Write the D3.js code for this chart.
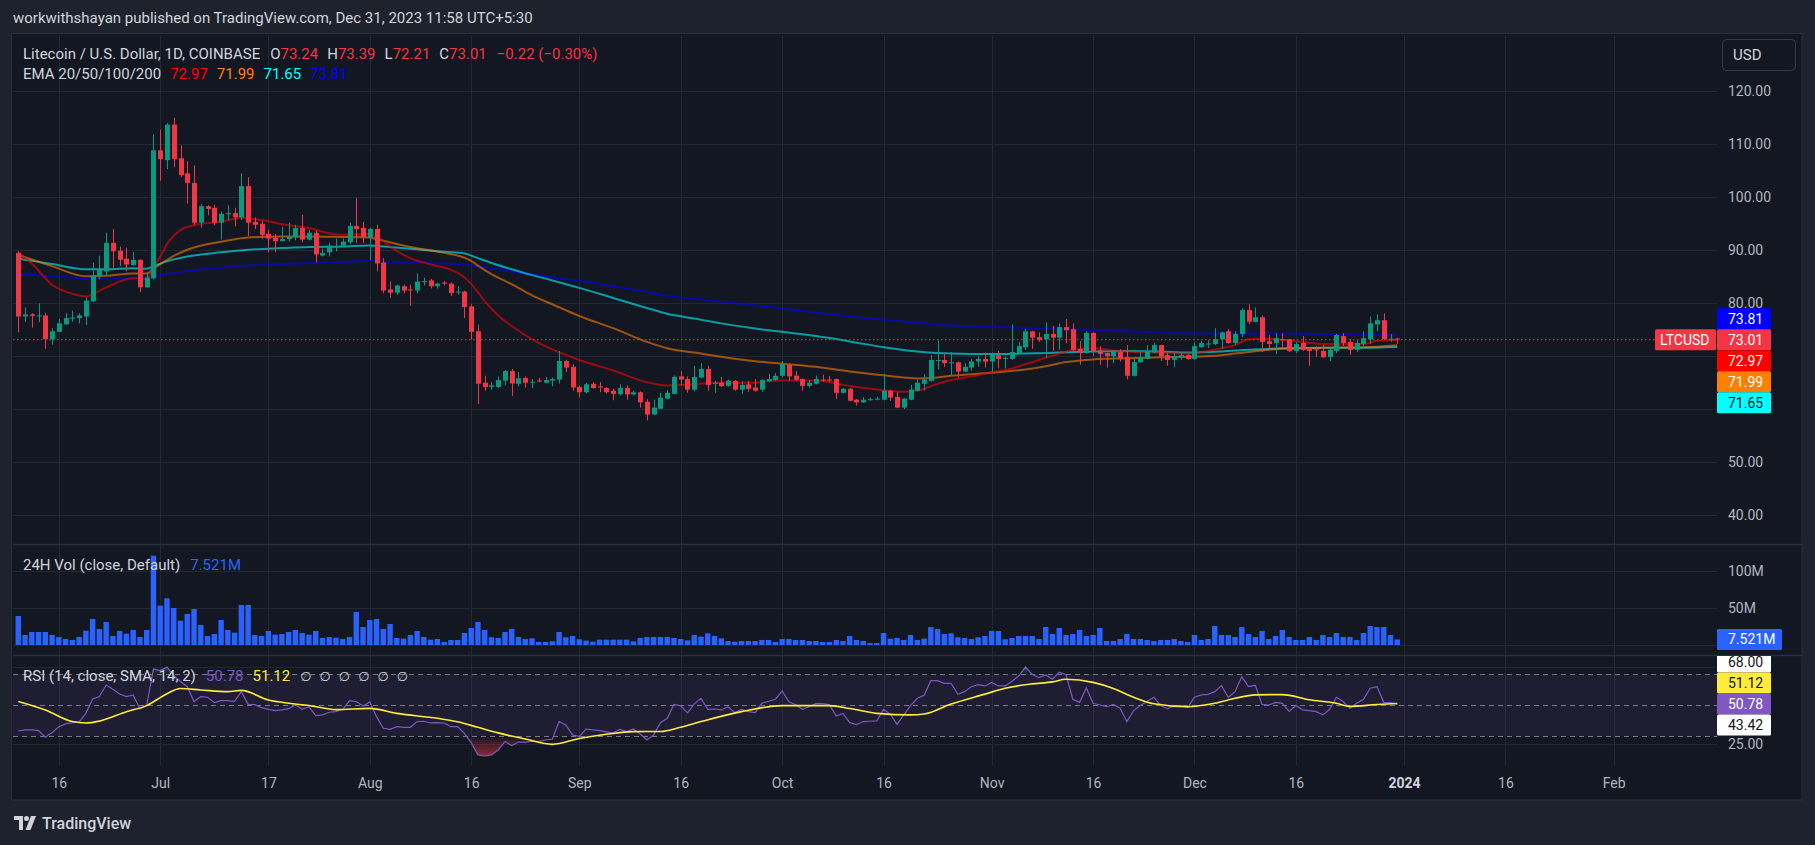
<!DOCTYPE html>
<html>
<head>
<meta charset="utf-8">
<style>
  html, body { margin: 0; padding: 0; background: #1e222d; overflow: hidden; }
  svg { display: block; font-family: Roboto, "Liberation Sans", sans-serif; }
</style>
</head>
<body>
<script src="https://d3js.org/d3.v7.min.js"></script>
<script>
// LTCUSD daily, 10 Jun 2023 .. 31 Dec 2023

var DAY = 864e5
var startDate = Date.UTC(2023, 5, 10)

// o, h, l, c per day
var candles = [
  [89.4, 89.7, 74.4, 77.4], [77.4, 79.1, 76.4, 77.8], [77.8, 78.0, 75.3, 77.5], [77.5, 79.9, 76.3, 77.6], [77.6, 78.1, 71.3, 73.1],
  [73.1, 75.2, 72.1, 74.6], [74.5, 76.9, 74.4, 76.1], [75.9, 78.0, 75.9, 77.1], [77.0, 78.5, 76.4, 77.2], [77.1, 78.0, 76.1, 77.6],
  [77.4, 81.0, 75.8, 80.4], [80.25, 87.6, 80.1, 85.2], [85.0, 88.9, 84.4, 86.2], [85.9, 93.2, 85.2, 91.3], [91.3, 93.9, 86.6, 89.7],
  [89.8, 90.6, 86.9, 88.1], [88.3, 90.4, 85.9, 87.2], [87.1, 89.6, 87.0, 88.1], [88.1, 88.2, 82.0, 82.9], [82.9, 85.75, 82.75, 84.75],
  [84.6, 111.75, 84.4, 108.75], [108.75, 112.7, 103.0, 107.1], [106.9, 113.9, 105.2, 113.6], [113.6, 114.9, 105.6, 107.1], [107.25, 109.7, 103.75, 104.1],
  [104.4, 106.7, 98.7, 102.6], [102.6, 105.9, 94.7, 95.1], [95.1, 98.6, 94.2, 98.2], [98.2, 98.4, 96.5, 97.7], [97.9, 98.4, 94.6, 95.1],
  [95.1, 97.2, 91.9, 96.75], [96.7, 98.4, 95.6, 96.9], [96.9, 97.9, 94.4, 96.1], [96.1, 104.4, 95.6, 102.0], [102.0, 103.7, 92.6, 95.1],
  [95.25, 96.1, 93.9, 94.7], [94.9, 95.4, 92.1, 92.8], [93.0, 93.75, 89.5, 92.1], [92.25, 93.0, 89.5, 91.6], [91.6, 94.3, 91.6, 92.05],
  [92.0, 95.1, 91.6, 92.4], [92.3, 94.7, 91.75, 94.1], [94.1, 96.6, 91.4, 91.9], [91.9, 93.75, 91.75, 93.2], [93.2, 93.6, 87.6, 89.1],
  [88.9, 90.2, 88.75, 89.4], [89.5, 91.3, 88.75, 90.75], [90.6, 92.1, 89.7, 90.7], [90.75, 92.1, 90.6, 91.5], [91.4, 95.1, 91.0, 94.5],
  [94.5, 99.75, 91.25, 93.9], [94.1, 95.25, 91.25, 92.3], [92.2, 94.1, 88.0, 93.9], [93.9, 94.7, 85.9, 87.4], [87.6, 88.4, 81.8, 82.3],
  [82.5, 84.0, 80.9, 81.9], [81.9, 83.4, 81.5, 83.25], [83.1, 83.4, 81.8, 82.3], [82.5, 83.4, 79.4, 82.4], [82.3, 85.5, 81.8, 84.0],
  [84.0, 84.75, 83.25, 84.1], [84.2, 84.5, 82.7, 83.1], [83.1, 83.8, 82.7, 83.6], [83.8, 84.1, 83.25, 83.6], [83.6, 83.8, 81.25, 81.8],
  [82.0, 83.1, 81.5, 82.1], [82.1, 82.25, 77.1, 79.2], [79.3, 79.7, 73.1, 74.5], [74.6, 75.9, 60.9, 64.7], [64.9, 66.2, 63.4, 64.1],
  [64.1, 65.0, 63.6, 64.4], [64.1, 66.1, 63.9, 65.4], [65.3, 67.3, 64.5, 67.1], [67.1, 67.5, 62.4, 64.75], [64.7, 66.9, 64.2, 65.75],
  [65.8, 66.1, 64.0, 64.9], [65.0, 65.6, 63.9, 65.1], [65.3, 65.8, 65.0, 65.1], [64.9, 66.0, 64.8, 65.4], [65.3, 65.9, 64.2, 65.6],
  [65.5, 70.9, 64.75, 69.0], [69.0, 69.25, 66.9, 67.75], [67.9, 68.4, 63.4, 64.0], [64.1, 64.4, 62.1, 63.1], [63.1, 64.9, 62.9, 64.6],
  [64.7, 65.0, 63.75, 63.9], [64.2, 65.0, 63.1, 64.0], [63.9, 64.1, 62.9, 63.1], [63.4, 63.8, 61.6, 62.8], [62.75, 64.6, 62.5, 63.9],
  [63.9, 64.4, 61.7, 62.7], [62.7, 63.4, 62.5, 63.1], [63.1, 63.25, 60.2, 61.2], [61.3, 61.8, 57.8, 58.9], [58.9, 61.7, 58.8, 60.2],
  [60.0, 63.0, 59.9, 62.1], [61.9, 63.5, 61.8, 63.0], [62.8, 66.25, 62.7, 66.0], [66.1, 67.1, 64.4, 65.5], [65.6, 66.1, 63.0, 63.6],
  [63.6, 68.1, 63.25, 66.0], [65.9, 68.6, 65.75, 67.5], [67.5, 68.1, 63.4, 64.5], [64.8, 65.25, 63.0, 64.9], [64.9, 66.0, 64.1, 64.25],
  [64.3, 65.5, 64.2, 65.3], [65.25, 65.4, 63.4, 63.6], [63.6, 65.2, 62.8, 64.5], [64.6, 65.25, 63.2, 63.75], [64.0, 65.6, 63.2, 63.4],
  [63.6, 65.6, 63.2, 65.4], [65.2, 66.6, 65.0, 65.6], [65.4, 66.7, 65.3, 66.2], [66.2, 69.0, 65.9, 68.4], [68.25, 68.6, 65.25, 66.1],
  [66.25, 67.1, 65.3, 65.45], [65.6, 65.7, 63.4, 64.3], [64.3, 65.4, 64.0, 64.9], [64.7, 66.25, 64.6, 65.6], [65.5, 66.4, 65.1, 65.3],
  [65.5, 66.2, 65.1, 65.4], [65.6, 65.7, 61.8, 63.0], [63.0, 63.9, 62.9, 63.75], [63.75, 63.9, 61.4, 61.5], [61.7, 61.8, 60.6, 61.2],
  [61.2, 62.2, 61.1, 61.7], [61.6, 62.1, 61.5, 61.8], [61.8, 62.25, 61.6, 61.9], [61.7, 66.6, 61.6, 63.4], [63.4, 63.6, 61.5, 62.1],
  [62.2, 63.1, 60.1, 60.2], [60.2, 62.0, 59.9, 61.9], [61.7, 64.5, 61.6, 63.6], [63.4, 65.5, 63.3, 64.9], [64.7, 66.5, 63.4, 65.5],
  [65.25, 70.1, 65.1, 69.2], [69.1, 72.9, 67.4, 69.2], [69.2, 70.5, 67.9, 68.6], [68.7, 70.7, 66.25, 68.75], [68.75, 68.9, 65.9, 67.0],
  [67.0, 68.6, 66.9, 67.9], [67.75, 69.4, 67.2, 68.9], [68.9, 69.9, 67.9, 69.4], [69.4, 70.6, 67.75, 68.9], [68.9, 70.6, 66.9, 70.2],
  [70.1, 70.9, 67.6, 69.4], [69.5, 69.8, 67.6, 69.6], [69.4, 75.9, 69.2, 70.7], [70.5, 72.6, 70.4, 71.8], [71.6, 75.1, 71.1, 74.6],
  [74.6, 74.7, 71.25, 73.4], [73.5, 74.4, 72.6, 73.0], [73.1, 76.3, 69.6, 74.1], [74.1, 75.6, 70.9, 73.4], [73.4, 76.1, 71.1, 75.4],
  [75.4, 76.9, 72.4, 74.8], [75.0, 76.1, 70.7, 71.1], [71.25, 72.75, 68.3, 70.5], [70.5, 74.6, 70.4, 74.3], [74.3, 74.4, 70.0, 70.9],
  [71.0, 71.8, 68.25, 70.3], [70.5, 70.6, 67.75, 69.9], [69.9, 71.1, 68.6, 70.9], [70.7, 71.25, 68.9, 69.4], [69.75, 72.0, 65.5, 66.2],
  [66.2, 69.4, 66.1, 68.8], [68.75, 70.75, 68.7, 69.75], [69.4, 72.0, 69.3, 70.8], [70.6, 72.4, 70.5, 72.0], [72.0, 72.1, 69.0, 69.9],
  [70.1, 70.5, 68.1, 69.2], [69.2, 70.5, 67.9, 69.9], [69.6, 70.5, 69.2, 70.1], [70.1, 70.3, 69.25, 69.4], [69.4, 72.5, 69.3, 71.8],
  [71.6, 72.75, 71.5, 72.4], [72.2, 72.9, 71.5, 72.3], [72.2, 75.2, 72.0, 73.1], [73.1, 74.5, 71.25, 74.4], [74.6, 75.0, 72.3, 72.4],
  [72.4, 74.6, 72.0, 74.1], [74.1, 78.9, 73.5, 78.6], [78.6, 79.7, 75.9, 76.4], [76.4, 79.1, 76.3, 77.25], [77.25, 77.6, 70.7, 72.6],
  [72.75, 73.9, 71.1, 72.2], [72.4, 74.25, 70.3, 73.3], [73.1, 74.25, 71.4, 73.0], [73.1, 73.2, 70.7, 70.9], [70.9, 72.6, 70.5, 72.2],
  [72.4, 73.7, 70.9, 71.1], [71.4, 71.6, 68.1, 70.9], [71.2, 71.8, 69.75, 71.1], [70.9, 72.0, 69.6, 69.7], [69.75, 71.6, 69.0, 71.1],
  [70.9, 74.1, 70.5, 73.9], [73.7, 74.25, 71.8, 72.4], [72.6, 73.1, 70.1, 71.1], [71.1, 72.9, 70.75, 72.4], [72.2, 74.6, 71.25, 73.3],
  [73.1, 77.4, 72.2, 76.1], [75.9, 77.8, 74.6, 76.7], [76.7, 78.0, 73.0, 73.1], [73.0, 74.1, 72.6, 73.2], [73.24, 73.39, 72.21, 73.01]
]

// 24h volume, millions
var volume = [
  39.2, 13.5, 17.6, 17.6, 17.6, 13.5, 10.8, 8.1, 6.8, 10.8,
  19.4, 35.1, 21.6, 31.1, 12.2, 18.9, 15.3, 20.3, 10.8, 20.3,
  120.7, 53.2, 63.1, 50.0, 32.9, 41.9, 48.6, 27.0, 12.2, 14.9,
  33.8, 20.3, 16.7, 54.1, 54.1, 13.5, 12.2, 18.9, 14.0, 14.9,
  17.6, 20.3, 16.2, 14.0, 18.9, 9.5, 10.8, 9.9, 8.1, 10.8,
  44.6, 24.3, 33.8, 35.1, 21.6, 28.4, 9.5, 8.6, 13.5, 18.9,
  10.8, 7.2, 8.1, 4.1, 6.8, 6.8, 16.2, 23.0, 31.1, 20.3,
  10.4, 9.5, 17.6, 21.6, 10.8, 8.1, 9.0, 4.1, 4.1, 5.0,
  17.6, 10.4, 12.2, 7.7, 5.9, 4.5, 7.2, 7.2, 7.2, 7.2,
  7.2, 5.0, 9.5, 10.8, 10.8, 10.8, 10.8, 9.5, 8.1, 6.3,
  13.5, 11.3, 15.8, 12.2, 9.0, 5.4, 4.5, 5.4, 5.4, 5.4,
  6.8, 6.8, 4.1, 8.1, 8.1, 6.8, 6.8, 5.4, 5.4, 4.1,
  4.1, 6.8, 5.4, 12.2, 6.8, 5.4, 2.7, 2.7, 16.2, 8.6,
  9.5, 6.8, 13.5, 6.8, 8.6, 24.3, 21.6, 14.9, 15.8, 10.4,
  9.5, 8.1, 10.4, 12.2, 18.9, 18.9, 7.7, 9.5, 12.2, 12.2,
  12.2, 8.1, 24.3, 14.9, 23.0, 13.5, 14.9, 20.3, 12.2, 13.5,
  23.0, 5.4, 5.4, 8.1, 14.9, 8.1, 8.1, 6.8, 5.4, 6.8,
  6.8, 8.1, 5.4, 4.1, 13.5, 6.8, 8.1, 25.7, 13.5, 13.5,
  10.8, 24.3, 14.9, 10.8, 18.9, 8.1, 12.2, 20.3, 10.8, 6.8,
  6.8, 10.8, 6.8, 13.5, 10.8, 16.2, 10.8, 10.8, 6.8, 16.2,
  25.7, 24.3, 24.3, 13.5, 7.521
]

// RSI(14) per day
var rsi = [
  33.4, 34.1, 34.1, 33.7, 29.4, 32.4, 36.2, 38.0, 38.8, 39.2,
  44.8, 54.1, 55.6, 63.1, 60.3, 57.3, 55.6, 56.7, 47.6, 50.2,
  73.4, 72.4, 74.7, 69.1, 65.3, 62.0, 52.4, 55.6, 55.2, 51.7,
  53.0, 53.0, 52.6, 58.8, 50.6, 50.4, 48.5, 47.4, 46.6, 47.0,
  47.8, 50.4, 47.4, 49.1, 43.3, 43.8, 45.5, 45.9, 47.4, 53.0,
  52.4, 49.6, 52.2, 42.7, 35.2, 34.5, 36.2, 35.8, 35.8, 39.5,
  39.7, 38.6, 38.8, 38.6, 36.2, 36.2, 31.9, 25.9, 18.0, 17.3,
  18.0, 21.2, 26.6, 24.0, 26.3, 26.1, 26.8, 26.6, 27.6, 28.1,
  39.5, 37.3, 30.9, 29.8, 34.7, 34.1, 33.7, 32.8, 32.2, 34.5,
  33.0, 34.7, 31.5, 27.6, 30.9, 38.8, 41.6, 50.6, 49.6, 45.1,
  50.9, 54.5, 47.4, 47.6, 47.0, 49.1, 45.3, 47.4, 45.9, 45.3,
  51.3, 52.6, 53.9, 59.2, 52.2, 50.4, 47.4, 49.1, 51.1, 51.1,
  50.4, 43.1, 44.8, 38.8, 37.5, 39.5, 39.7, 39.9, 47.4, 44.2,
  37.7, 43.8, 49.8, 54.5, 56.5, 65.9, 65.9, 64.2, 64.2, 57.1,
  58.8, 62.0, 63.3, 62.5, 64.8, 62.5, 62.5, 65.5, 68.9, 74.7,
  70.0, 67.8, 69.6, 66.8, 71.3, 69.8, 53.9, 51.9, 61.2, 51.3,
  50.2, 49.1, 50.6, 48.1, 39.5, 46.6, 49.8, 52.6, 55.2, 49.8,
  47.8, 49.8, 49.8, 48.5, 55.2, 56.7, 57.1, 58.8, 62.7, 55.2,
  58.8, 68.5, 62.0, 62.9, 50.6, 50.2, 51.9, 51.3, 46.1, 49.8,
  47.0, 46.6, 45.9, 43.8, 47.4, 55.2, 52.4, 48.1, 51.3, 53.9,
  61.0, 62.0, 51.9, 51.7, 50.78
]

// RSI-based SMA(14), read at [day, value]
var rsiMa = [
  [0, 52.5], [4, 47.0], [8, 39.5], [10, 38.6], [12, 39.8], [16, 45.9], [19, 49.8], [22, 57.5], [24, 60.8], [27, 59.9],
  [31, 58.8], [33, 59.6], [37, 53.4], [40, 51.3], [43, 49.9], [47, 47.2], [52, 48.0], [56, 44.8], [62, 41.6], [65, 39.4],
  [68, 35.8], [71, 32.2], [75, 28.2], [79, 24.8], [83, 28.6], [87, 31.3], [91, 33.0], [95, 33.1], [98, 35.9], [101, 39.5],
  [107, 45.9], [113, 49.8], [120, 49.8], [123, 47.9], [127, 44.8], [132, 43.8], [134, 44.4], [138, 50.8], [143, 57.2], [146, 61.0],
  [150, 63.8], [153, 65.1], [155, 66.8], [159, 64.8], [162, 60.9], [165, 55.2], [168, 51.0], [173, 49.1], [177, 51.3], [180, 54.5],
  [183, 56.7], [187, 56.9], [191, 53.6], [195, 51.3], [197, 49.3], [201, 50.5], [204, 51.12]
]

// EMA lines, read at [day, value]
var ema20 = [
  [0, 89.5], [2, 87.4], [5, 83.4], [8, 81.7], [10, 81.2], [13, 82.9], [17, 84.6], [19, 84.5], [20, 86.8], [21, 88.7],
  [22, 91.1], [24, 93.7], [26, 94.6], [30, 95.3], [33, 96.0], [36, 95.6], [39, 94.8], [43, 94.1], [46, 93.1], [48, 92.8],
  [52, 93.0], [53, 92.5], [55, 90.6], [58, 88.4], [61, 87.2], [64, 86.2], [66, 84.8], [68, 82.0], [69, 80.3], [71, 77.6],
  [73, 75.6], [76, 73.1], [79, 71.2], [83, 69.2], [88, 67.2], [93, 65.0], [96, 64.4], [100, 64.6], [103, 64.9], [108, 64.9],
  [113, 65.3], [118, 65.3], [123, 64.3], [128, 63.5], [131, 63.2], [133, 63.4], [136, 64.7], [138, 65.4], [141, 66.1], [144, 66.9],
  [147, 67.6], [149, 68.4], [152, 69.6], [154, 70.4], [156, 71.1], [159, 71.4], [162, 71.0], [164, 70.8], [169, 70.6], [173, 70.4],
  [176, 70.9], [178, 71.4], [180, 72.0], [182, 73.1], [184, 73.2], [187, 73.0], [190, 72.6], [193, 72.2], [196, 72.2], [199, 72.2],
  [201, 72.8], [204, 72.97]
]
var ema50 = [
  [0, 89.0], [5, 86.9], [10, 85.0], [13, 85.1], [17, 85.5], [19, 85.5], [20, 86.4], [22, 88.1], [25, 90.0], [30, 91.5],
  [34, 92.3], [39, 92.5], [43, 92.5], [48, 92.4], [52, 92.3], [53, 92.0], [58, 90.5], [63, 89.4], [66, 88.5], [67, 87.9],
  [68, 87.0], [70, 85.4], [73, 83.5], [76, 81.4], [79, 79.7], [83, 77.5], [88, 75.2], [93, 72.6], [96, 71.4], [101, 70.4],
  [104, 69.8], [108, 69.1], [113, 68.5], [118, 67.9], [123, 67.0], [128, 66.3], [131, 65.9], [133, 65.7], [136, 65.9], [138, 66.2],
  [144, 66.8], [149, 67.4], [152, 68.0], [155, 68.8], [159, 69.3], [164, 69.5], [169, 69.7], [173, 69.8], [178, 70.1], [182, 70.7],
  [187, 71.3], [193, 71.5], [199, 71.6], [204, 71.99]
]
var ema100 = [
  [0, 88.3], [5, 87.3], [10, 86.3], [13, 86.3], [17, 86.5], [19, 86.4], [20, 86.9], [22, 87.8], [25, 88.7], [30, 89.5],
  [34, 90.0], [39, 90.3], [43, 90.5], [48, 90.6], [52, 90.8], [53, 90.7], [58, 90.2], [63, 89.6], [66, 89.3], [68, 88.4],
  [70, 87.5], [73, 86.3], [76, 85.2], [79, 84.2], [83, 82.8], [88, 80.9], [93, 79.0], [96, 77.9], [101, 76.8], [104, 76.1],
  [108, 75.3], [113, 74.5], [118, 73.7], [123, 72.7], [128, 71.6], [133, 70.8], [136, 70.5], [138, 70.4], [144, 70.3], [149, 70.4],
  [154, 70.6], [159, 70.8], [164, 70.9], [169, 70.8], [173, 70.6], [178, 70.8], [182, 71.1], [187, 71.4], [193, 71.5], [199, 71.5],
  [204, 71.65]
]
var ema200 = [
  [0, 85.4], [5, 85.0], [10, 84.6], [13, 84.6], [17, 84.7], [19, 84.8], [20, 85.0], [22, 85.4], [25, 86.0], [30, 86.6],
  [34, 87.0], [39, 87.3], [43, 87.5], [48, 87.7], [52, 87.9], [53, 87.8], [58, 87.6], [63, 87.4], [66, 87.2], [68, 86.9],
  [70, 86.5], [73, 85.9], [76, 85.3], [79, 84.8], [83, 84.1], [88, 83.1], [93, 82.0], [96, 81.3], [101, 80.6], [104, 80.2],
  [108, 79.6], [113, 78.9], [118, 78.1], [123, 77.4], [128, 76.8], [133, 76.2], [136, 75.9], [138, 75.7], [144, 75.5], [149, 75.2],
  [154, 75.0], [159, 74.9], [164, 74.6], [169, 74.4], [173, 74.25], [178, 74.2], [182, 74.2], [187, 74.2], [193, 74.1], [199, 74.0],
  [204, 73.81]
]

var priceTicks = [120, 110, 100, 90, 80, 70, 60, 50, 40]
var volTicks = [100, 50]
var rsiTicks = [75, 25]
var rsiBands = [70, 50, 30]

var timeTickDates = ['2023-06-16', '2023-07-01', '2023-07-17', '2023-08-01', '2023-08-16', '2023-09-01', '2023-09-16', '2023-10-01',
  '2023-10-16', '2023-11-01', '2023-11-16', '2023-12-01', '2023-12-16', '2024-01-01', '2024-01-16', '2024-02-01']
var timeTickLabels = ['16', 'Jul', '17', 'Aug', '16', 'Sep', '16', 'Oct', '16', 'Nov', '16', 'Dec', '16', '2024', '16', 'Feb']

var lastOhlc = [73.24, 73.39, 72.21, 73.01]
var ohlcNames = ['O', 'H', 'L', 'C']
var changeText = '\u22120.22 (\u22120.30%)'
var emaLast = [72.97, 71.99, 71.65, 73.81]
var lastVolume = 7.521
var lastRsi = 50.78
var lastRsiMa = 51.12
var rsiExtra = [68.00, 43.42]

// page setup

var W = 1815, H = 845
var left = 13, right = 1717, frameRight = 1802
var mainTop = 36, mainBottom = 544, volBottom = 655, rsiBottom = 765, frameBottom = 800
var boxH = 21

var up = '#089981', down = '#f23645', grid = '#232733', textGrey = '#b2b5be', textLight = '#d1d4dc'

var svg = d3.select('body').append('svg')
  .attr('width', W)
  .attr('height', H)

svg.append('rect').attr('width', W).attr('height', H).attr('fill', '#1e222d')
svg.append('rect')
  .attr('x', 11.5).attr('y', 33.5)
  .attr('width', frameRight - 11.5).attr('height', frameBottom - 33.5)
  .attr('fill', '#131722')
  .attr('stroke', '#2a2e39')

// scales

function dayDate(i) { return new Date(startDate + i * DAY) }

var x = d3.scaleUtc()
  .domain([new Date(startDate - 0.78 * DAY), new Date(startDate + 251.3 * DAY)])
  .range([left, right])

var y = d3.scaleLinear().domain([40, 120]).range([514.7, 90.7])
var yVol = d3.scaleLinear().domain([0, 100]).range([645, 571])
var yRsi = d3.scaleLinear().domain([30, 70]).range([736.3, 674.3])

var tickDates = timeTickDates.map(function(s) { return new Date(s + 'T00:00:00Z') })

// clip paths for panes

var defs = svg.append('defs')
function clip(id, y0, y1) {
  defs.append('clipPath').attr('id', id)
    .append('rect').attr('x', left).attr('y', y0).attr('width', right - left).attr('height', y1 - y0)
}
clip('clip-main', mainTop, mainBottom)
clip('clip-vol', mainBottom, volBottom)
clip('clip-rsi', volBottom, rsiBottom)

var grad = defs.append('linearGradient').attr('id', 'oversold').attr('x1', 0).attr('x2', 0).attr('y1', 0).attr('y2', 1)
grad.append('stop').attr('offset', '0%').attr('stop-color', '#f23645').attr('stop-opacity', 0)
grad.append('stop').attr('offset', '100%').attr('stop-color', '#f23645').attr('stop-opacity', 0.55)
var grad2 = defs.append('linearGradient').attr('id', 'overbought').attr('x1', 0).attr('x2', 0).attr('y1', 0).attr('y2', 1)
grad2.append('stop').attr('offset', '0%').attr('stop-color', '#089981').attr('stop-opacity', 0.55)
grad2.append('stop').attr('offset', '100%').attr('stop-color', '#089981').attr('stop-opacity', 0)

// grid

var gridG = svg.append('g')
gridG.selectAll('.vgrid').data(tickDates).enter().append('line')
  .attr('x1', function(d) { return Math.round(x(d)) + 0.5 })
  .attr('x2', function(d) { return Math.round(x(d)) + 0.5 })
  .attr('y1', mainTop).attr('y2', rsiBottom)
  .attr('stroke', grid)

function hgrid(ticks, scale) {
  gridG.selectAll(null).data(ticks).enter().append('line')
    .attr('x1', left).attr('x2', right)
    .attr('y1', function(d) { return Math.round(scale(d)) + 0.5 })
    .attr('y2', function(d) { return Math.round(scale(d)) + 0.5 })
    .attr('stroke', grid)
}
hgrid(priceTicks, y)
hgrid(volTicks.concat([0]), yVol)
hgrid(rsiTicks, yRsi)

// pane separators
;[mainBottom, volBottom].forEach(function(py) {
  svg.append('line')
    .attr('x1', left).attr('x2', frameRight)
    .attr('y1', py + 0.5).attr('y2', py + 0.5)
    .attr('stroke', '#2a2e39').attr('stroke-width', 1.5)
})

// main pane: emas, candles

var main = svg.append('g').attr('clip-path', 'url(#clip-main)')

var emaLine = d3.line()
  .x(function(d) { return x(dayDate(d[0])) })
  .y(function(d) { return y(d[1]) })
  .curve(d3.curveMonotoneX)

var emas = [
  { data: ema200, color: '#0000ff' },
  { data: ema100, color: '#00ffff' },
  { data: ema50, color: '#ff8000' },
  { data: ema20, color: '#ff0000' }
]
emas.forEach(function(e) {
  main.append('path')
    .attr('d', emaLine(e.data))
    .attr('fill', 'none')
    .attr('stroke', e.color)
    .attr('stroke-opacity', 0.58)
    .attr('stroke-width', 2)
})

var candle = main.selectAll('.candle').data(candles).enter().append('g')

candle.append('line')
  .attr('x1', function(d, i) { return Math.round(x(dayDate(i))) + 0.5 })
  .attr('x2', function(d, i) { return Math.round(x(dayDate(i))) + 0.5 })
  .attr('y1', function(d) { return y(d[1]) })
  .attr('y2', function(d) { return y(d[2]) })
  .attr('stroke', function(d) { return d[3] >= d[0] ? up : down })

candle.append('rect')
  .attr('x', function(d, i) { return Math.round(x(dayDate(i))) - 2 })
  .attr('width', 5)
  .attr('y', function(d) { return y(Math.max(d[0], d[3])) })
  .attr('height', function(d) { return Math.max(1, Math.abs(y(d[0]) - y(d[3]))) })
  .attr('fill', function(d) { return d[3] >= d[0] ? up : down })

// last price dotted line
main.append('line')
  .attr('x1', left).attr('x2', 1655)
  .attr('y1', y(lastOhlc[3])).attr('y2', y(lastOhlc[3]))
  .attr('stroke', down)
  .attr('stroke-dasharray', '1.5,2.5')

// volume pane

svg.append('g').attr('clip-path', 'url(#clip-vol)')
  .selectAll('rect').data(volume).enter().append('rect')
  .attr('x', function(d, i) { return x(dayDate(i)) - 2.7 })
  .attr('width', 5.4)
  .attr('y', function(d) { return yVol(d) })
  .attr('height', function(d) { return yVol(0) - yVol(d) })
  .attr('fill', '#2962ff')

// rsi pane

var rsiG = svg.append('g').attr('clip-path', 'url(#clip-rsi)')

rsiG.append('rect')
  .attr('x', left).attr('width', right - left)
  .attr('y', yRsi(70)).attr('height', yRsi(30) - yRsi(70))
  .attr('fill', '#7e57c2').attr('fill-opacity', 0.1)

rsiG.append('path')
  .datum(rsi)
  .attr('fill', 'url(#oversold)')
  .attr('d', d3.area()
    .x(function(d, i) { return x(dayDate(i)) })
    .y0(yRsi(30))
    .y1(function(d) { return yRsi(Math.min(d, 30)) }))

rsiG.append('path')
  .datum(rsi)
  .attr('fill', 'url(#overbought)')
  .attr('d', d3.area()
    .x(function(d, i) { return x(dayDate(i)) })
    .y0(yRsi(70))
    .y1(function(d) { return yRsi(Math.max(d, 70)) }))

rsiG.selectAll('.band').data(rsiBands).enter().append('line')
  .attr('x1', left).attr('x2', right)
  .attr('y1', function(d) { return Math.round(yRsi(d)) + 0.5 })
  .attr('y2', function(d) { return Math.round(yRsi(d)) + 0.5 })
  .attr('stroke', '#787b86')
  .attr('stroke-dasharray', '5,4')

rsiG.append('path')
  .datum(rsi)
  .attr('fill', 'none')
  .attr('stroke', '#7e57c2')
  .attr('stroke-width', 1.2)
  .attr('d', d3.line()
    .x(function(d, i) { return x(dayDate(i)) })
    .y(function(d) { return yRsi(d) }))

rsiG.append('path')
  .datum(rsiMa)
  .attr('fill', 'none')
  .attr('stroke', '#ffeb3b')
  .attr('stroke-width', 1.6)
  .attr('d', d3.line()
    .x(function(d) { return x(dayDate(d[0])) })
    .y(function(d) { return yRsi(d[1]) })
    .curve(d3.curveMonotoneX))

// stacked value labels on the right scale (computed first so axis labels can give way)

function stackLabels(items, anchor, scale, h) {
  var ys = items.map(function(d) { return scale(d.value) })
  for (var i = anchor - 1; i >= 0; i--) ys[i] = Math.min(ys[i], ys[i + 1] - h)
  for (var j = anchor + 1; j < items.length; j++) ys[j] = Math.max(ys[j], ys[j - 1] + h)
  return ys
}

var priceItems = [
  { value: emaLast[3], text: emaLast[3].toFixed(2), bg: '#0000ff', fg: '#ffffff' },
  { value: lastOhlc[3], text: lastOhlc[3].toFixed(2), bg: down, fg: '#ffffff' },
  { value: emaLast[0], text: emaLast[0].toFixed(2), bg: '#ff0000', fg: '#ffffff' },
  { value: emaLast[1], text: emaLast[1].toFixed(2), bg: '#ff8000', fg: '#ffffff' },
  { value: emaLast[2], text: emaLast[2].toFixed(2), bg: '#00ffff', fg: '#131722' }
]
var volItems = [{ value: lastVolume, text: lastVolume.toFixed(3) + 'M', bg: '#2962ff', fg: '#ffffff' }]
var rsiItems = [
  { value: rsiExtra[0], text: rsiExtra[0].toFixed(2), bg: '#ffffff', fg: '#131722' },
  { value: lastRsiMa, text: lastRsiMa.toFixed(2), bg: '#ffeb3b', fg: '#131722' },
  { value: lastRsi, text: lastRsi.toFixed(2), bg: '#7e57c2', fg: '#ffffff' },
  { value: rsiExtra[1], text: rsiExtra[1].toFixed(2), bg: '#ffffff', fg: '#131722' }
]

var priceYs = stackLabels(priceItems, 1, y, boxH)
var volYs = stackLabels(volItems, 0, yVol, boxH)
var rsiYs = stackLabels(rsiItems, 2, yRsi, boxH)
var taken = priceYs.concat(volYs, rsiYs)

function isFree(py) {
  return taken.every(function(t) { return Math.abs(t - py) > boxH / 2 + 5 })
}

// axes

function styleAxis(g) {
  g.select('.domain').remove()
  g.attr('font-size', null).attr('font-family', null)
  g.selectAll('text').attr('fill', textGrey).style('font-size', '14px')
}

svg.append('g')
  .attr('transform', 'translate(' + right + ',0)')
  .call(d3.axisRight(y).tickValues(priceTicks.filter(function(d) { return isFree(y(d)) }))
    .tickFormat(d3.format('.2f')).tickSize(0).tickPadding(11))
  .call(styleAxis)

svg.append('g')
  .attr('transform', 'translate(' + right + ',0)')
  .call(d3.axisRight(yVol).tickValues(volTicks.filter(function(d) { return isFree(yVol(d)) }))
    .tickFormat(function(d) { return d + 'M' }).tickSize(0).tickPadding(11))
  .call(styleAxis)

svg.append('g')
  .attr('transform', 'translate(' + right + ',0)')
  .call(d3.axisRight(yRsi).tickValues(rsiTicks.filter(function(d) { return isFree(yRsi(d)) }))
    .tickFormat(d3.format('.2f')).tickSize(0).tickPadding(11))
  .call(styleAxis)

var xAxisG = svg.append('g')
  .attr('transform', 'translate(0,' + rsiBottom + ')')
  .call(d3.axisBottom(x).tickValues(tickDates).tickFormat(function(d, i) { return timeTickLabels[i] }).tickSize(0).tickPadding(13))
  .call(styleAxis)
xAxisG.selectAll('text')
  .filter(function(d, i) { return timeTickLabels[i] === '2024' })
  .attr('fill', textLight)
  .style('font-weight', 'bold')

// draw the value boxes

defs.append('clipPath').attr('id', 'clip-rsi-axis')
  .append('rect').attr('x', right).attr('y', volBottom + 1).attr('width', 100).attr('height', rsiBottom - volBottom)

function drawLabels(items, ys, w, clipId) {
  var g = svg.append('g')
  if (clipId) g.attr('clip-path', 'url(#' + clipId + ')')
  items.forEach(function(d, i) {
    g.append('rect')
      .attr('x', right).attr('y', ys[i] - boxH / 2)
      .attr('width', w).attr('height', boxH)
      .attr('rx', 1.5)
      .attr('fill', d.bg)
    g.append('text')
      .attr('x', right + 11).attr('y', ys[i])
      .attr('dy', '0.35em')
      .attr('fill', d.fg)
      .style('font-size', '14px')
      .text(d.text)
  })
}

drawLabels(priceItems, priceYs, 54)
drawLabels(volItems, volYs, 65)
drawLabels(rsiItems, rsiYs, 54, 'clip-rsi-axis')

svg.append('rect')
  .attr('x', 1655).attr('y', priceYs[1] - boxH / 2)
  .attr('width', 61).attr('height', boxH)
  .attr('rx', 1.5)
  .attr('fill', down)
svg.append('text')
  .attr('x', 1660).attr('y', priceYs[1]).attr('dy', '0.35em')
  .attr('fill', '#ffffff')
  .style('font-size', '14px')
  .text('LTCUSD')

// usd button

svg.append('rect')
  .attr('x', 1722.5).attr('y', 39.5)
  .attr('width', 73).attr('height', 31)
  .attr('rx', 4)
  .attr('fill', '#131722')
  .attr('stroke', '#363a45')
svg.append('text')
  .attr('x', 1733).attr('y', 55).attr('dy', '0.35em')
  .attr('fill', textLight)
  .style('font-size', '15px')
  .text('USD')

// legends

svg.append('text')
  .attr('x', 13).attr('y', 23)
  .attr('fill', textLight)
  .style('font-size', '15px')
  .text('workwithshayan published on TradingView.com, Dec 31, 2023 11:58 UTC+5:30')

var legendSize = '15px'

var legend1 = svg.append('text')
  .attr('x', 23).attr('y', 58.5)
  .attr('fill', textLight)
  .style('font-size', legendSize)
legend1.append('tspan').text('Litecoin / U.S. Dollar, 1D, COINBASE')
ohlcNames.forEach(function(n, i) {
  legend1.append('tspan').attr('dx', i === 0 ? 10 : 9).text(n)
  legend1.append('tspan').attr('fill', down).text(lastOhlc[i].toFixed(2))
})
legend1.append('tspan').attr('dx', 10).attr('fill', down).text(changeText)

var legend2 = svg.append('text')
  .attr('x', 23).attr('y', 79)
  .attr('fill', textLight)
  .style('font-size', legendSize)
legend2.append('tspan').text('EMA 20/50/100/200')
var emaColors = ['#ff0000', '#ff8000', '#00ffff', '#0000ff']
emaLast.forEach(function(v, i) {
  legend2.append('tspan').attr('dx', 9).attr('fill', emaColors[i]).text(v.toFixed(2))
})

var legend3 = svg.append('text')
  .attr('x', 23).attr('y', 570)
  .attr('fill', textLight)
  .style('font-size', legendSize)
legend3.append('tspan').text('24H Vol (close, Default)')
legend3.append('tspan').attr('dx', 10).attr('fill', '#2962ff').text(lastVolume.toFixed(3) + 'M')

var legend4 = svg.append('text')
  .attr('x', 23).attr('y', 681)
  .attr('fill', textLight)
  .style('font-size', legendSize)
legend4.append('tspan').text('RSI (14, close, SMA, 14, 2)')
legend4.append('tspan').attr('dx', 10).attr('fill', '#7e57c2').text(lastRsi.toFixed(2))
legend4.append('tspan').attr('dx', 9).attr('fill', '#ffeb3b').text(lastRsiMa.toFixed(2))
for (var k = 0; k < 6; k++) {
  legend4.append('tspan').attr('dx', k === 0 ? 10 : 8)
    .style('font-family', '"DejaVu Sans", sans-serif')
    .style('font-size', '13px')
    .text('\u2205')
}

// tradingview mark

var logo = svg.append('g').attr('transform', 'translate(14,816)').attr('fill', textLight)
logo.append('path').attr('d', 'M0 0 H9 V14 H5 V4 H0 Z')
logo.append('circle').attr('cx', 12.5).attr('cy', 2.5).attr('r', 2.5)
logo.append('path').attr('d', 'M17 0 H22 L16.5 14 H11.5 Z')
svg.append('text')
  .attr('x', 42).attr('y', 823).attr('dy', '0.35em')
  .attr('fill', textLight)
  .style('font-size', '16px')
  .style('font-weight', 500)
  .text('TradingView')
</script>
</body>
</html>
